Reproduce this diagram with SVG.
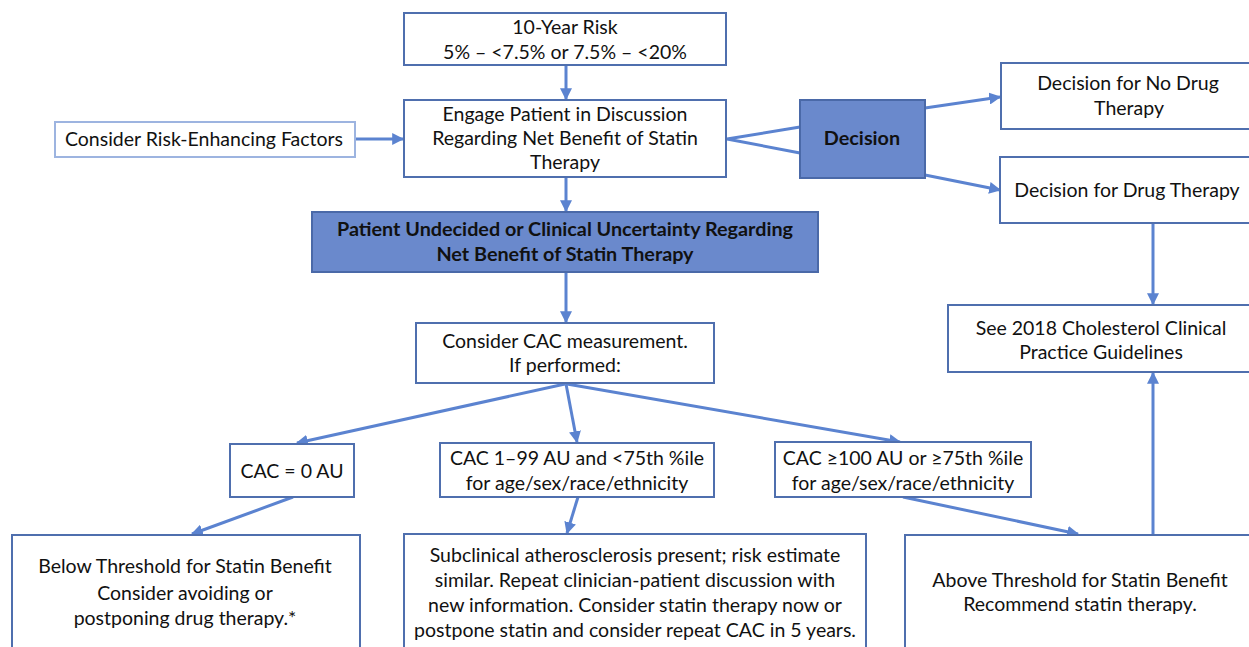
<svg xmlns="http://www.w3.org/2000/svg" width="1249" height="647" viewBox="0 0 1249 647">
<style>
.box{fill:#fff;stroke:#4f6fae;stroke-width:2}
.light{fill:#fff;stroke:#9db4e0;stroke-width:2}
.blue{fill:#6a89cc;stroke:#4a69a8;stroke-width:2}
text{font-family:Lato,"Liberation Sans",sans-serif;font-size:19.5px;fill:#111;text-anchor:middle}
.b{font-weight:bold;font-size:19.8px}
.c{fill:none;stroke:#5b83d0;stroke-width:3}
</style>
<defs>
<marker id="ah" viewBox="0 0 10 10" refX="9" refY="5" markerWidth="4" markerHeight="4" markerUnits="strokeWidth" orient="auto">
<path d="M0,0 L10,5 L0,10 z" fill="#5b83d0"/>
</marker>
</defs>
<g id="connectors">
<line class="c" x1="566" y1="65" x2="566" y2="99" marker-end="url(#ah)"/>
<line class="c" x1="355" y1="139" x2="403" y2="139" marker-end="url(#ah)"/>
<polyline class="c" points="800,127 727,139 800,153"/>
<line class="c" x1="925" y1="108" x2="1000" y2="97" marker-end="url(#ah)"/>
<line class="c" x1="925" y1="175" x2="1000" y2="190" marker-end="url(#ah)"/>
<line class="c" x1="566" y1="177" x2="566" y2="211" marker-end="url(#ah)"/>
<line class="c" x1="566" y1="272" x2="566" y2="322" marker-end="url(#ah)"/>
<line class="c" x1="1153" y1="223" x2="1153" y2="304" marker-end="url(#ah)"/>
<line class="c" x1="1153" y1="535" x2="1153" y2="373" marker-end="url(#ah)"/>
<line class="c" x1="565" y1="384" x2="297" y2="443" marker-end="url(#ah)"/>
<line class="c" x1="566" y1="384" x2="577" y2="442" marker-end="url(#ah)"/>
<line class="c" x1="567" y1="384" x2="900" y2="442" marker-end="url(#ah)"/>
<line class="c" x1="293" y1="497" x2="192" y2="534" marker-end="url(#ah)"/>
<line class="c" x1="578" y1="497" x2="567" y2="533" marker-end="url(#ah)"/>
<line class="c" x1="903" y1="497" x2="1078" y2="534" marker-end="url(#ah)"/>
</g>
<g id="risk">
<rect class="box" x="404" y="13" width="322" height="52"/>
<text x="565" y="34">10-Year Risk</text>
<text x="565" y="59">5% – &lt;7.5% or 7.5% – &lt;20%</text>
</g>
<g id="factors">
<rect class="light" x="55" y="122" width="300" height="35"/>
<text x="204" y="146">Consider Risk-Enhancing Factors</text>
</g>
<g id="engage">
<rect class="box" x="404" y="100" width="322" height="77"/>
<text x="565" y="121">Engage Patient in Discussion</text>
<text x="565" y="145">Regarding Net Benefit of Statin</text>
<text x="565" y="169">Therapy</text>
</g>
<g id="decision">
<rect class="blue" x="800" y="100" width="125" height="78"/>
<text class="b" x="862" y="145">Decision</text>
</g>
<g id="nodrug">
<rect class="box" x="1001" y="63" width="250" height="66"/>
<text x="1128" y="90">Decision for No Drug</text>
<text x="1129" y="115">Therapy</text>
</g>
<g id="drug">
<rect class="box" x="1000" y="157" width="251" height="66"/>
<text x="1127" y="197">Decision for Drug Therapy</text>
</g>
<g id="undecided">
<rect class="blue" x="312" y="212" width="506" height="60"/>
<text class="b" x="565" y="236">Patient Undecided or Clinical Uncertainty Regarding</text>
<text class="b" x="565" y="261">Net Benefit of Statin Therapy</text>
</g>
<g id="cac">
<rect class="box" x="416" y="323" width="298" height="60"/>
<text x="565" y="348">Consider CAC measurement.</text>
<text x="565" y="372">If performed:</text>
</g>
<g id="guidelines">
<rect class="box" x="948" y="305" width="303" height="67"/>
<text x="1101" y="335">See 2018 Cholesterol Clinical</text>
<text x="1101" y="359">Practice Guidelines</text>
</g>
<g id="cac0">
<rect class="box" x="230" y="444" width="124" height="53"/>
<text x="292" y="478">CAC = 0 AU</text>
</g>
<g id="cac1">
<rect class="box" x="440" y="443" width="274" height="54"/>
<text x="577" y="465">CAC 1–99 AU and &lt;75th %ile</text>
<text x="577" y="490">for age/sex/race/ethnicity</text>
</g>
<g id="cac100">
<rect class="box" x="775" y="442" width="256" height="55"/>
<text x="903" y="465">CAC ≥100 AU or ≥75th %ile</text>
<text x="903" y="490">for age/sex/race/ethnicity</text>
</g>
<g id="below">
<rect class="box" x="12" y="535" width="348" height="120"/>
<text x="185" y="573">Below Threshold for Statin Benefit</text>
<text x="185" y="600">Consider avoiding or</text>
<text x="185" y="625">postponing drug therapy.*</text>
</g>
<g id="subclinical">
<rect class="box" x="404" y="534" width="462" height="120"/>
<text x="635" y="562">Subclinical atherosclerosis present; risk estimate</text>
<text x="635" y="587">similar. Repeat clinician-patient discussion with</text>
<text x="635" y="612">new information. Consider statin therapy now or</text>
<text x="635" y="637">postpone statin and consider repeat CAC in 5 years.</text>
</g>
<g id="above">
<rect class="box" x="905" y="535" width="346" height="120"/>
<text x="1080" y="587">Above Threshold for Statin Benefit</text>
<text x="1080" y="611">Recommend statin therapy.</text>
</g>
</svg>
